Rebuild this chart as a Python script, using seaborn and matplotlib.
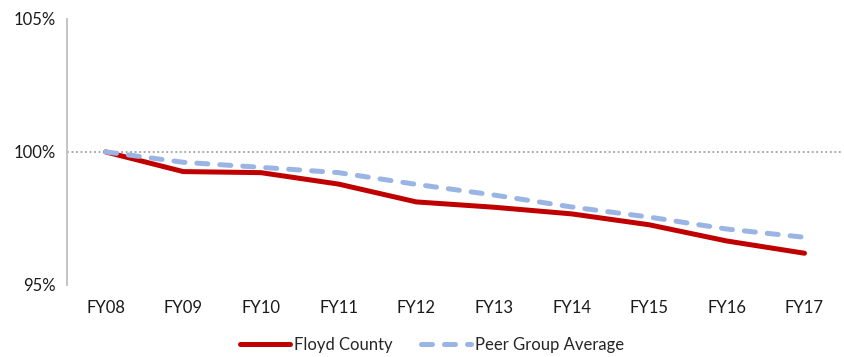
# Floyd County vs peer group, indexed to FY08 = 100%
import matplotlib
matplotlib.use("Agg")
import matplotlib.pyplot as plt
import seaborn as sns
import pandas as pd

# -----------------------------
# data
# -----------------------------
years = ["FY08", "FY09", "FY10", "FY11", "FY12", "FY13", "FY14", "FY15", "FY16", "FY17"]
floyd = [100.0, 99.26, 99.22, 98.79, 98.12, 97.92, 97.67, 97.26, 96.65, 96.19]
peer = [100.0, 99.61, 99.42, 99.22, 98.78, 98.38, 97.93, 97.55, 97.10, 96.79]
y_ticks = [95, 100, 105]

df = pd.DataFrame({
    "year": years * 2,
    "value": floyd + peer,
    "series": ["Floyd County"] * len(years) + ["Peer Group Average"] * len(years),
})

sns.set_style("white")
plt.rcParams["font.family"] = ["Lato", "DejaVu Sans"]

fig = plt.figure(figsize=(8.45, 3.57), dpi=100)
ax = fig.add_axes([0.079, 0.202, 0.919, 0.745])

ax.axhline(100, color="#a0a0a0", lw=1.3, ls=(0, (1, 1.5)), zorder=1)

sns.lineplot(data=df, x="year", y="value", hue="series", style="series",
             palette={"Floyd County": "#c00000", "Peer Group Average": "#9ab5e4"},
             dashes={"Floyd County": "", "Peer Group Average": (2.2, 2.4)},
             lw=3.6, sort=False, ax=ax, zorder=3)
for ln in ax.get_lines()[1:]:
    ln.set_solid_capstyle("round")
    ln.set_dash_capstyle("round")

ax.set_xlim(-0.5, len(years) - 0.5)
ax.set_ylim(95, 105)
ax.set_yticks(y_ticks)
ax.set_yticklabels([f"{t}%" for t in y_ticks])
ax.set_xlabel("")
ax.set_ylabel("")

for s in ["top", "right", "bottom"]:
    ax.spines[s].set_visible(False)
ax.spines["left"].set_color("#bfbfbf")
ax.spines["left"].set_linewidth(1.3)
ax.tick_params(axis="y", length=4, color="#bfbfbf", width=1.3, labelsize=12, pad=4)
ax.tick_params(axis="y", labelcolor="#1a1a1a")
ax.tick_params(axis="x", length=0, labelsize=12, pad=11, labelcolor="#1a1a1a")

handles, labels = ax.get_legend_handles_labels()
ax.legend(handles, labels, loc="center", bbox_to_anchor=(0.47, -0.225), ncol=2,
          frameon=False, fontsize=12, handlelength=3.0, handletextpad=0.25,
          columnspacing=1.7, borderpad=0.2)
for h in ax.get_legend().get_lines():
    h.set_linewidth(3.6)
    h.set_dash_capstyle("round")
    h.set_solid_capstyle("round")

fig.savefig("out.png", dpi=100)
